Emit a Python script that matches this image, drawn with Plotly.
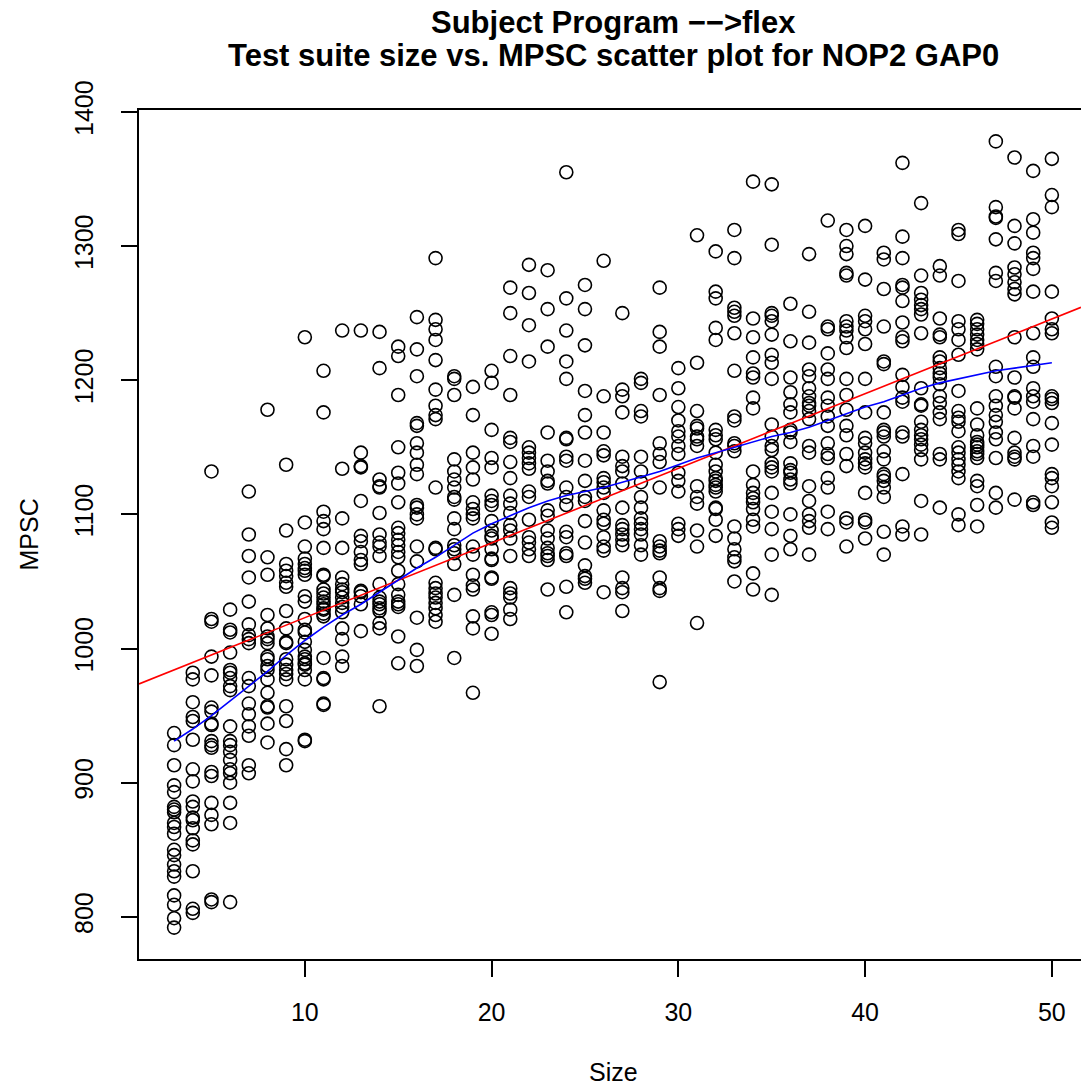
import numpy as np
import plotly.graph_objects as go

# ---- data: MPSC values observed for each test-suite size ----
mpsc_s3 = [937, 928, 913, 898, 893, 882, 880, 878, 870, 867, 862, 850, 846, 839, 834, 830, 816, 809, 799, 792]
mpsc_s4 = [982, 977, 960, 949, 946, 932, 910, 901, 886, 882, 874, 872, 866, 857, 854, 834, 806, 803]
mpsc_s5 = [1132, 1022, 1020, 994, 980, 956, 953, 944, 943, 931, 928, 926, 908, 905, 885, 876, 869, 813, 811]
mpsc_s6 = [1029, 1014, 1012, 997, 984, 982, 978, 972, 969, 942, 931, 928, 923, 917, 910, 907, 900, 885, 870, 811]
mpsc_s7 = [1117, 1085, 1069, 1053, 1035, 1018, 1010, 1007, 1004, 978, 972, 959, 951, 942, 935, 913, 907]
mpsc_s8 = [1178, 1068, 1055, 1025, 1015, 1009, 1007, 1004, 994, 992, 987, 984, 977, 967, 957, 956, 944, 930]
mpsc_s9 = [1137, 1088, 1063, 1058, 1054, 1049, 1046, 1028, 1015, 1005, 1004, 992, 988, 984, 981, 977, 957, 946, 925, 913]
mpsc_s10 = [1232, 1094, 1076, 1067, 1063, 1060, 1058, 1055, 1039, 1035, 1022, 1014, 1012, 1005, 999, 994, 992, 989, 988, 984, 977, 932, 931]
mpsc_s11 = [1207, 1176, 1102, 1095, 1089, 1075, 1055, 1054, 1044, 1041, 1038, 1035, 1033, 1030, 1029, 1026, 1024, 993, 978, 977, 959, 958]
mpsc_s12 = [1237, 1134, 1097, 1075, 1053, 1048, 1044, 1042, 1038, 1034, 1031, 1027, 1015, 1007, 994, 987]
mpsc_s13 = [1237, 1146, 1136, 1135, 1110, 1084, 1080, 1072, 1066, 1063, 1043, 1042, 1039, 1033, 1013]
mpsc_s14 = [1236, 1209, 1126, 1121, 1120, 1101, 1085, 1079, 1076, 1069, 1048, 1038, 1035, 1033, 1030, 1028, 1019, 1015, 957]
mpsc_s15 = [1225, 1218, 1189, 1150, 1131, 1123, 1109, 1090, 1086, 1081, 1077, 1072, 1068, 1058, 1048, 1040, 1035, 1033, 1031, 1009, 989]
mpsc_s16 = [1247, 1223, 1203, 1168, 1166, 1153, 1146, 1137, 1130, 1107, 1105, 1100, 1097, 1076, 1065, 1023, 999, 987]
mpsc_s17 = [1291, 1245, 1238, 1230, 1215, 1193, 1181, 1174, 1171, 1120, 1075, 1074, 1049, 1045, 1041, 1038, 1034, 1030, 1025, 1020]
mpsc_s18 = [1203, 1201, 1189, 1141, 1132, 1126, 1120, 1113, 1111, 1097, 1089, 1077, 1074, 1071, 1063, 1040, 993]
mpsc_s19 = [1195, 1174, 1146, 1135, 1126, 1109, 1104, 1100, 1097, 1076, 1070, 1055, 1047, 1044, 1024, 1015, 967]
mpsc_s20 = [1207, 1198, 1163, 1142, 1135, 1114, 1110, 1107, 1095, 1088, 1084, 1082, 1074, 1067, 1066, 1053, 1052, 1027, 1025, 1011]
mpsc_s21 = [1269, 1250, 1218, 1189, 1157, 1154, 1139, 1127, 1114, 1108, 1101, 1092, 1088, 1082, 1069, 1045, 1041, 1038, 1029, 1022]
mpsc_s22 = [1286, 1265, 1241, 1214, 1150, 1146, 1142, 1138, 1134, 1117, 1113, 1096, 1083, 1079, 1074, 1069]
mpsc_s23 = [1282, 1253, 1225, 1161, 1140, 1132, 1125, 1123, 1103, 1099, 1088, 1082, 1075, 1071, 1069, 1066, 1044]
mpsc_s24 = [1355, 1261, 1237, 1214, 1201, 1157, 1156, 1143, 1140, 1120, 1113, 1107, 1087, 1083, 1071, 1069, 1046, 1027]
mpsc_s25 = [1271, 1253, 1226, 1192, 1174, 1161, 1140, 1125, 1113, 1110, 1095, 1079, 1062, 1054, 1052, 1049]
mpsc_s26 = [1289, 1188, 1161, 1147, 1144, 1127, 1124, 1120, 1116, 1103, 1096, 1093, 1083, 1076, 1073, 1042]
mpsc_s27 = [1250, 1193, 1188, 1176, 1143, 1136, 1132, 1123, 1105, 1092, 1089, 1085, 1081, 1077, 1053, 1045, 1042, 1028]
mpsc_s28 = [1201, 1198, 1177, 1173, 1143, 1132, 1124, 1113, 1105, 1097, 1093, 1089, 1085, 1077, 1070]
mpsc_s29 = [1269, 1236, 1225, 1189, 1153, 1145, 1139, 1120, 1080, 1076, 1073, 1071, 1053, 1045, 1043, 975]
mpsc_s30 = [1209, 1194, 1180, 1170, 1162, 1158, 1151, 1145, 1131, 1125, 1117, 1093, 1089, 1084]
mpsc_s31 = [1308, 1213, 1177, 1166, 1164, 1158, 1156, 1151, 1121, 1113, 1108, 1088, 1076, 1019]
mpsc_s32 = [1296, 1266, 1261, 1239, 1230, 1163, 1159, 1156, 1146, 1137, 1132, 1127, 1125, 1122, 1120, 1117, 1105, 1104, 1096, 1084]
mpsc_s33 = [1312, 1291, 1254, 1251, 1248, 1235, 1207, 1173, 1170, 1153, 1151, 1147, 1091, 1082, 1074, 1068, 1065, 1050]
mpsc_s34 = [1348, 1246, 1232, 1217, 1205, 1202, 1187, 1179, 1132, 1122, 1116, 1112, 1109, 1104, 1096, 1091, 1056, 1044]
mpsc_s35 = [1346, 1301, 1250, 1248, 1244, 1234, 1219, 1213, 1201, 1167, 1158, 1151, 1148, 1138, 1135, 1132, 1116, 1102, 1089, 1070, 1040]
mpsc_s36 = [1257, 1229, 1202, 1191, 1182, 1176, 1163, 1161, 1154, 1138, 1133, 1131, 1126, 1123, 1100, 1084, 1074]
mpsc_s37 = [1294, 1251, 1228, 1208, 1203, 1194, 1188, 1183, 1181, 1177, 1171, 1151, 1146, 1121, 1110, 1100, 1095, 1090, 1070]
mpsc_s38 = [1319, 1240, 1238, 1220, 1208, 1201, 1187, 1181, 1173, 1166, 1153, 1145, 1142, 1127, 1120, 1102, 1089]
mpsc_s39 = [1312, 1300, 1294, 1280, 1278, 1244, 1240, 1237, 1232, 1224, 1201, 1189, 1178, 1166, 1159, 1145, 1136, 1097, 1094, 1076]
mpsc_s40 = [1315, 1275, 1248, 1244, 1238, 1227, 1201, 1176, 1157, 1153, 1146, 1141, 1138, 1135, 1116, 1096, 1094, 1082]
mpsc_s41 = [1295, 1290, 1268, 1240, 1214, 1212, 1176, 1163, 1161, 1158, 1147, 1141, 1130, 1128, 1125, 1120, 1113, 1087, 1070]
mpsc_s42 = [1362, 1307, 1291, 1271, 1269, 1259, 1243, 1232, 1229, 1204, 1195, 1187, 1184, 1161, 1158, 1130, 1091, 1085]
mpsc_s43 = [1332, 1278, 1265, 1260, 1256, 1253, 1249, 1235, 1194, 1182, 1181, 1169, 1163, 1159, 1156, 1152, 1148, 1141, 1110, 1085]
mpsc_s44 = [1285, 1278, 1246, 1234, 1232, 1217, 1214, 1209, 1205, 1202, 1197, 1188, 1183, 1176, 1171, 1145, 1141, 1105]
mpsc_s45 = [1312, 1309, 1274, 1244, 1238, 1230, 1219, 1192, 1177, 1172, 1169, 1162, 1150, 1146, 1141, 1137, 1132, 1127, 1100, 1092]
mpsc_s46 = [1245, 1242, 1238, 1234, 1230, 1227, 1223, 1179, 1167, 1159, 1154, 1152, 1150, 1147, 1145, 1142, 1125, 1121, 1107, 1091]
mpsc_s47 = [1378, 1329, 1322, 1321, 1305, 1280, 1274, 1210, 1203, 1188, 1181, 1174, 1169, 1161, 1156, 1142, 1116, 1105]
mpsc_s48 = [1366, 1315, 1302, 1284, 1279, 1273, 1268, 1264, 1232, 1202, 1188, 1187, 1179, 1157, 1146, 1143, 1141, 1111]
mpsc_s49 = [1356, 1320, 1310, 1295, 1291, 1283, 1266, 1235, 1217, 1210, 1194, 1188, 1184, 1171, 1151, 1143, 1109, 1107]
mpsc_s50 = [1365, 1338, 1329, 1266, 1246, 1238, 1235, 1188, 1186, 1183, 1168, 1152, 1130, 1127, 1121, 1109, 1094, 1090]

sizes = list(range(3, 51))
mpsc_columns = [
    mpsc_s3, mpsc_s4, mpsc_s5, mpsc_s6, mpsc_s7, mpsc_s8, mpsc_s9, mpsc_s10,
    mpsc_s11, mpsc_s12, mpsc_s13, mpsc_s14, mpsc_s15, mpsc_s16, mpsc_s17, mpsc_s18,
    mpsc_s19, mpsc_s20, mpsc_s21, mpsc_s22, mpsc_s23, mpsc_s24, mpsc_s25, mpsc_s26,
    mpsc_s27, mpsc_s28, mpsc_s29, mpsc_s30, mpsc_s31, mpsc_s32, mpsc_s33, mpsc_s34,
    mpsc_s35, mpsc_s36, mpsc_s37, mpsc_s38, mpsc_s39, mpsc_s40, mpsc_s41, mpsc_s42,
    mpsc_s43, mpsc_s44, mpsc_s45, mpsc_s46, mpsc_s47, mpsc_s48, mpsc_s49, mpsc_s50,
]

# smoothed (lowess) curve, one value per size
lowess_mpsc = [931, 940, 950, 961, 972, 983, 995, 1006, 1016, 1025, 1033, 1042, 1051,
               1060, 1068, 1077, 1086, 1093, 1099, 1105, 1110, 1114, 1117, 1120, 1124,
               1128, 1132, 1137, 1142, 1146, 1150, 1154, 1158, 1161, 1165, 1170, 1175,
               1180, 1184, 1189, 1194, 1198, 1201, 1204, 1207, 1209, 1211, 1213]

x_ticks = [10, 20, 30, 40, 50]
y_ticks = [800, 900, 1000, 1100, 1200, 1300, 1400]

title_line1 = "Subject Program \u2212\u2212>flex"
title_line2 = "Test suite size vs. MPSC scatter plot for NOP2 GAP0"
x_title = "Size"
y_title = "MPSC"

# ---- build flat series ----
xs, ys = [], []
for s, col in zip(sizes, mpsc_columns):
    xs.extend([s] * len(col))
    ys.extend(col)
xs = np.array(xs, dtype=float)
ys = np.array(ys, dtype=float)

x_range = [1.12, 51.56]
y_range = [768.6, 1401.4]

slope, intercept = np.polyfit(xs, ys, 1)
fit_x = np.array(x_range)
fit_y = intercept + slope * fit_x

FONT = "Liberation Sans, Arial, Helvetica, sans-serif"

fig = go.Figure()
fig.add_trace(go.Scatter(
    x=xs, y=ys, mode="markers",
    marker=dict(symbol="circle-open", size=13, color="black",
                line=dict(width=1.6, color="black")),
    showlegend=False, hoverinfo="x+y"))
fig.add_trace(go.Scatter(
    x=fit_x, y=fit_y, mode="lines",
    line=dict(color="#FF0000", width=1.6), showlegend=False))
fig.add_trace(go.Scatter(
    x=sizes, y=lowess_mpsc, mode="lines",
    line=dict(color="#0000FF", width=1.6), showlegend=False))

fig.update_layout(
    width=1081, height=1090,
    margin=dict(l=139, r=0, t=110, b=131, pad=0),
    paper_bgcolor="white", plot_bgcolor="white",
    font=dict(family=FONT, size=25, color="black"),
    showlegend=False,
)
fig.update_xaxes(
    range=x_range, tickvals=x_ticks, ticktext=[str(v) for v in x_ticks],
    showgrid=False, zeroline=False,
    showline=True, mirror=True, linecolor="black", linewidth=1.6,
    ticks="outside", ticklen=16, tickwidth=1.6, tickcolor="black",
    ticklabelstandoff=14,
    tickfont=dict(family=FONT, size=25, color="black"),
)
fig.update_yaxes(
    range=y_range, tickvals=y_ticks, ticktext=[str(v) for v in y_ticks],
    showgrid=False, zeroline=False,
    showline=True, mirror=False, linecolor="black", linewidth=1.6,
    ticks="outside", ticklen=16, tickwidth=1.6, tickcolor="black",
    tickangle=-90, ticklabelstandoff=18,
    tickfont=dict(family=FONT, size=25, color="black"),
)

plot_h = 1090 - 110 - 131
plot_w = 1081 - 139
center_x = (613 - 139) / plot_w

fig.add_annotation(text=f"<b>{title_line1}</b>", xref="paper", yref="paper",
                   x=center_x, y=(959 - 23) / plot_h, xanchor="center", yanchor="middle",
                   showarrow=False, font=dict(family=FONT, size=31, color="black"))
fig.add_annotation(text=f"<b>{title_line2}</b>", xref="paper", yref="paper",
                   x=center_x, y=(959 - 56) / plot_h, xanchor="center", yanchor="middle",
                   showarrow=False, font=dict(family=FONT, size=31, color="black"))
fig.add_annotation(text=x_title, xref="paper", yref="paper",
                   x=center_x, y=(959 - 1072) / plot_h, xanchor="center", yanchor="middle",
                   showarrow=False, font=dict(family=FONT, size=25, color="black"))
fig.add_annotation(text=y_title, xref="paper", yref="paper",
                   x=(28 - 139) / plot_w, y=0.5, xanchor="center", yanchor="middle",
                   textangle=-90, showarrow=False,
                   font=dict(family=FONT, size=25, color="black"))

fig.write_html("out.html")
